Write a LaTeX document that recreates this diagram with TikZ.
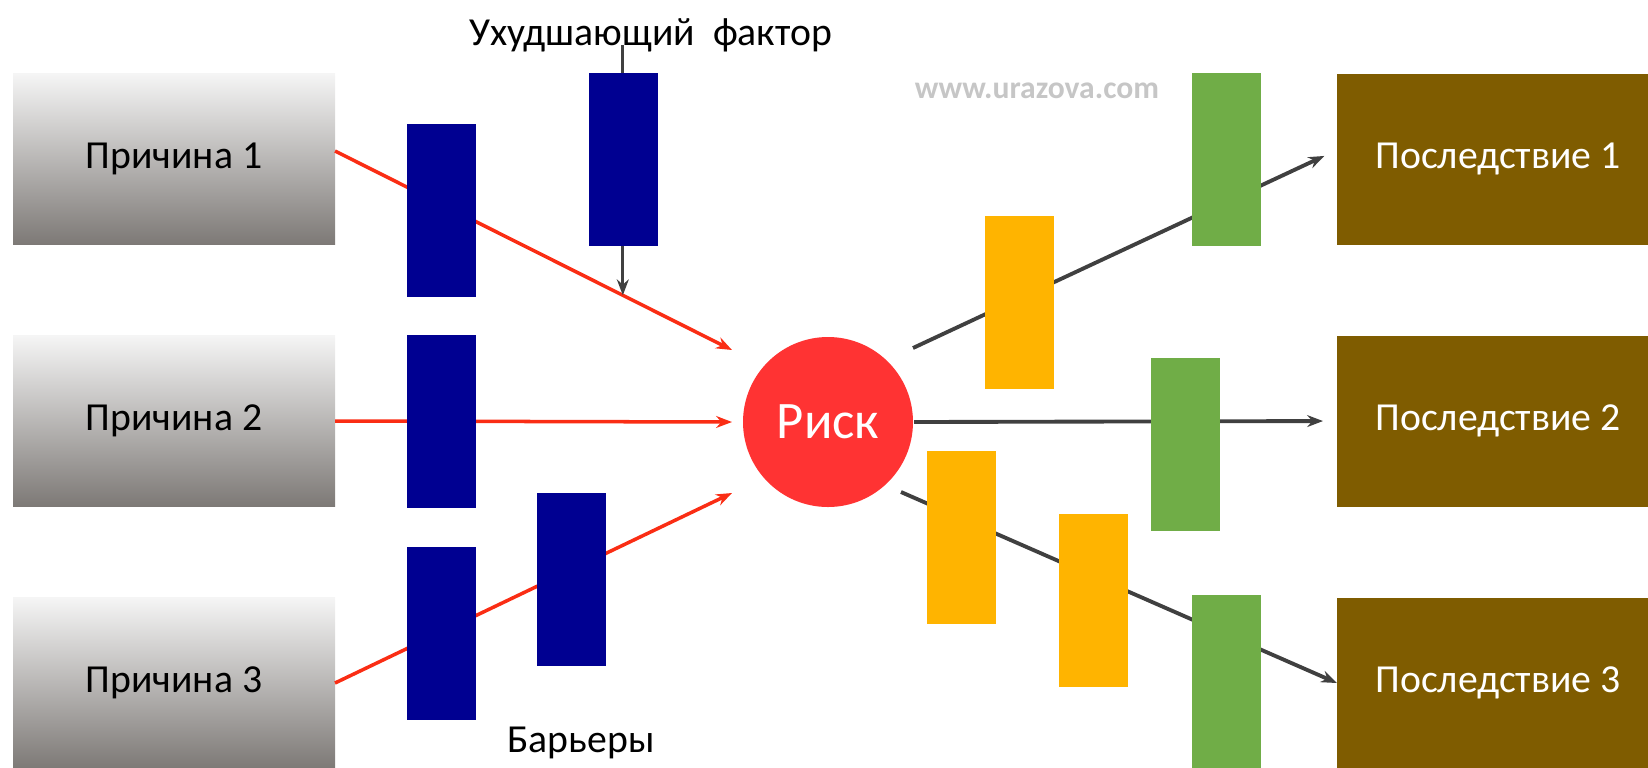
\documentclass[tikz,border=0pt]{standalone}
\usepackage{fontspec}
\setmainfont{Carlito}
\usepackage{xcolor}
\usetikzlibrary{arrows.meta, positioning, calc}

\definecolor{navybar}{RGB}{0,0,145}
\definecolor{amberbar}{RGB}{255,180,0}
\definecolor{greenbar}{RGB}{112,173,71}
\definecolor{brownbox}{RGB}{127,92,0}
\definecolor{riskred}{RGB}{255,51,51}
\definecolor{redline}{RGB}{250,45,20}
\definecolor{darkline}{RGB}{64,64,64}
\definecolor{causetop}{RGB}{245,245,245}
\definecolor{causebot}{RGB}{125,121,118}

\begin{document}
\begin{tikzpicture}[
cause/.style={rectangle, top color=causetop, bottom color=causebot, minimum width=3.22cm, minimum height=1.71cm, inner sep=0pt, outer sep=0pt, font=\fontsize{11.3}{13}\selectfont},
effect/.style={rectangle, fill=brownbox, text=white, minimum width=3.22cm, minimum height=1.71cm, inner sep=0pt, outer sep=0pt, font=\fontsize{11.3}{13}\selectfont},
risk/.style={circle, fill=riskred, text=white, minimum size=1.70cm, inner sep=0pt, font=\fontsize{15}{18}\selectfont},
bar/.style={rectangle, fill=#1, minimum width=0.69cm, minimum height=1.73cm, inner sep=0pt},
lbl/.style={font=\fontsize{11.3}{13}\selectfont, inner sep=0pt, anchor=base},
redarr/.style={-{Stealth[length=4.5pt]}, draw=redline, line width=1pt},
grayarr/.style={-{Stealth[length=4.5pt]}, draw=darkline, line width=1.1pt}
]
\useasboundingbox (0,0) rectangle (16.48,-7.67);

% causes and consequences
\node[cause] (c1) at (1.74,-1.59) {Причина 1};
\node[cause, below=0.91cm of c1] (c2) {Причина 2};
\node[cause, below=0.91cm of c2] (c3) {Причина 3};
\node[risk] (risk) at (8.28,-4.22) {Риск};
\node[effect] (k1) at (14.98,-1.59) {Последствие 1};
\node[effect, below=0.91cm of k1] (k2) {Последствие 2};
\node[effect, below=0.91cm of k2] (k3) {Последствие 3};

\node[lbl] (agg) at (6.51,-0.45) {Ухудшающий\ \ фактор};
\node[lbl] (barlbl) at (5.81,-7.52) {Барьеры};
\node[lbl, font=\fontsize{9}{10}\selectfont\bfseries, text=gray!45] (www) at (10.37,-0.98) {www.urazova.com};

% free ends around the risk
\coordinate (src1) at ([yshift=0.08cm]c1.east);
\coordinate (in1) at ($(risk)+(-0.96,0.72)$);
\coordinate (in2) at ($(risk)+(-0.96,0)$);
\coordinate (in3) at ($(risk)+(-0.96,-0.71)$);
\coordinate (out1) at ($(risk)+(0.85,0.74)$);
\coordinate (out2) at ($(risk)+(0.86,0)$);
\coordinate (out3) at ($(risk)+(0.73,-0.70)$);
\coordinate (hit) at ($(src1)!0.725!(in1)$);

\draw[redarr] (src1) -- (in1);
\draw[redarr] (c2.east) -- (in2);
\draw[redarr] (c3.east) -- (in3);
\draw[-{Stealth[length=4.5pt]}, draw=darkline, line width=0.8pt] (agg.base -| hit) -- (hit);
\draw[grayarr, shorten >=0.14cm] (out1) -- ([yshift=0.09cm]k1.west);
\draw[grayarr, shorten >=0.14cm] (out2) -- (k2.west);
\draw[grayarr] (out3) -- (k3.west);

% barriers
\node[bar=navybar] (b1) at (4.41,-2.10) {};
\node[bar=navybar] (b2) at (6.23,-1.59) {};
\node[bar=navybar] (b3) at (4.41,-4.21) {};
\node[bar=navybar] (b4) at (4.41,-6.33) {};
\node[bar=navybar] (b5) at (5.71,-5.79) {};
\node[bar=amberbar] (y1) at (10.19,-3.02) {};
\node[bar=amberbar] (y2) at (9.61,-5.37) {};
\node[bar=amberbar] (y3) at (10.93,-6.00) {};
\node[bar=greenbar] (g1) at (12.26,-1.59) {};
\node[bar=greenbar] (g2) at (11.85,-4.44) {};
\node[bar=greenbar] (g3) at (12.26,-6.81) {};
\end{tikzpicture}
\end{document}
